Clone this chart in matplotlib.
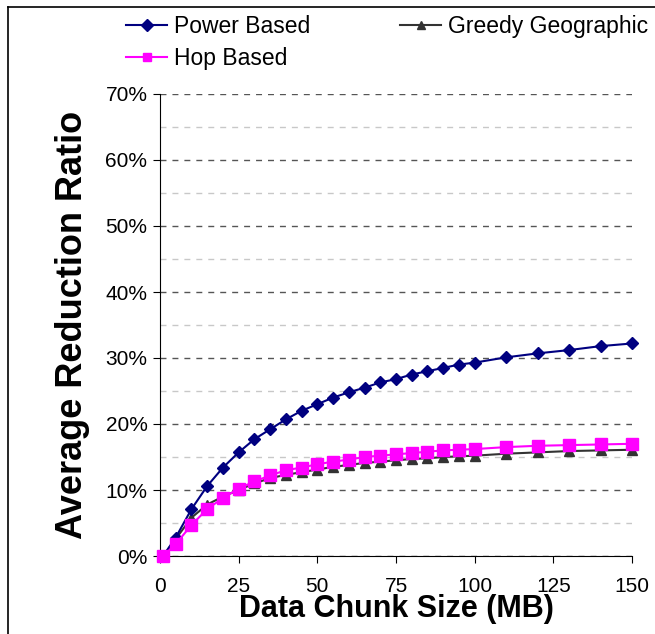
import numpy as np
import matplotlib.pyplot as plt
from matplotlib.ticker import MultipleLocator, FuncFormatter
from matplotlib.lines import Line2D

plt.rcParams['font.family'] = ['Liberation Sans', 'DejaVu Sans']

# data
chunk = [1, 5, 10, 15, 20, 25, 30, 35, 40, 45, 50, 55, 60, 65, 70, 75,
         80, 85, 90, 95, 100, 110, 120, 130, 140, 150]
power = [0.0, 2.8, 7.1, 10.6, 13.4, 15.7, 17.7, 19.2, 20.7, 22.0, 23.0, 24.0,
         24.8, 25.5, 26.3, 26.8, 27.5, 28.0, 28.5, 29.0, 29.3, 30.1, 30.7,
         31.2, 31.8, 32.2]
greedy = [0.0, 2.6, 5.8, 7.8, 9.0, 10.0, 11.0, 11.8, 12.3, 12.7, 13.1, 13.5,
          13.8, 14.1, 14.3, 14.5, 14.7, 14.8, 15.0, 15.1, 15.2, 15.5, 15.7,
          15.9, 16.0, 16.1]
hop = [0.0, 1.8, 4.7, 7.1, 8.8, 10.2, 11.3, 12.2, 13.0, 13.4, 13.9, 14.3,
       14.6, 15.0, 15.2, 15.4, 15.6, 15.8, 16.0, 16.1, 16.2, 16.5, 16.7,
       16.8, 16.9, 17.0]

fig = plt.figure(figsize=(6.55, 6.34), dpi=100)
ax = fig.add_axes([160/655, 1 - 556/634, 472/655, 462/634])

x = np.array(chunk)
l1, = ax.plot(x, np.array(power) / 100, color='#000080', marker='D', ms=6.5,
              lw=1.5, clip_on=False, zorder=4)
l3, = ax.plot(x, np.array(greedy) / 100, color='#333333', marker='^', ms=7,
              lw=1.5, clip_on=False, zorder=3)
l2, = ax.plot(x, np.array(hop) / 100, color='#FF00FF', marker='s', ms=8,
              lw=1.5, clip_on=False, zorder=5)

ax.set_xlim(0, 150)
ax.set_ylim(0, 0.7)
ax.xaxis.set_major_locator(MultipleLocator(25))
ax.yaxis.set_major_locator(MultipleLocator(0.1))
ax.yaxis.set_minor_locator(MultipleLocator(0.05))
ax.yaxis.set_major_formatter(FuncFormatter(lambda v, p: f"{v*100:.0f}%"))
ax.grid(True, which='major', axis='y', color='#555555', ls=(0, (4.3, 4.3)), lw=1.0)
ax.grid(True, which='minor', axis='y', color='#c8c8c8', ls=(0, (4.3, 4.3)), lw=1.0)
ax.tick_params(axis='y', which='minor', length=0)
ax.tick_params(axis='both', which='major', labelsize=15, direction='out',
               length=5, color='black')
ax.tick_params(axis='x', pad=10)
ax.tick_params(axis='y', pad=4)
ax.spines['top'].set_visible(False)
ax.spines['right'].set_visible(False)
ax.set_axisbelow(True)

ax.set_xlabel('Data Chunk Size (MB)', fontsize=22, fontweight='bold', labelpad=-1)
ax.set_ylabel('Average Reduction Ratio', fontsize=26, fontweight='bold', labelpad=11)

leg = fig.legend([l1, l2, l3], ['Power Based', 'Hop Based', 'Greedy Geographic'],
                 ncol=2, loc='upper left', bbox_to_anchor=(117/655, 1 - 6/634),
                 frameon=False, fontsize=16.5, handlelength=1.8, columnspacing=3.9,
                 handletextpad=0.3, labelspacing=0.4, borderaxespad=0)
for h in leg.legend_handles:
    h.set_markersize(6)

# border around the chart area
fig.add_artist(Line2D([8/655, 8/655], [0, 1 - 7/634], color='black', lw=1.2))
fig.add_artist(Line2D([8/655, 1], [1 - 7/634, 1 - 7/634], color='black', lw=1.2))

fig.savefig('out.png', dpi=100)
